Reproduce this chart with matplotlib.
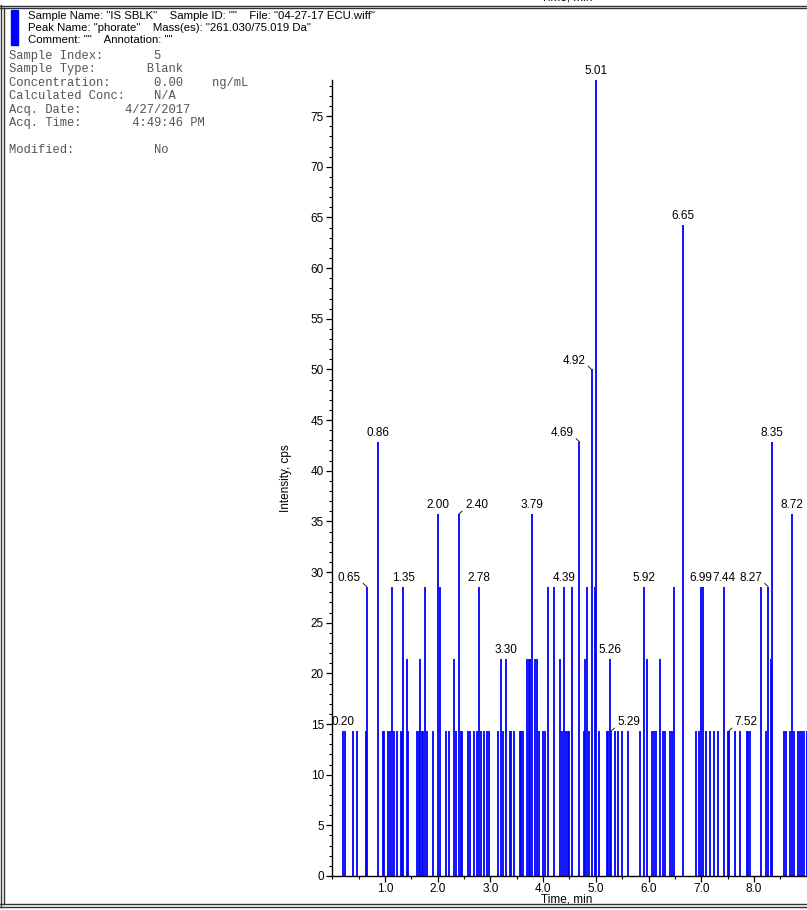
import matplotlib
matplotlib.use("Agg")
import matplotlib.pyplot as plt
from matplotlib.lines import Line2D
from matplotlib.ticker import MultipleLocator, FormatStrFormatter

# ---------------- data ----------------
spike_times = [
    0.21, 0.24, 0.39, 0.46, 0.63, 0.65, 0.86, 0.96, 0.98, 1.06, 1.09, 1.13, 1.17, 1.22,
    1.30, 1.33, 1.35, 1.41, 1.44, 1.61, 1.64, 1.66, 1.70, 1.73, 1.76, 1.80, 1.92, 2.00,
    2.04, 2.16, 2.22, 2.30, 2.35, 2.40, 2.44, 2.47, 2.58, 2.61, 2.69, 2.75, 2.78, 2.82,
    2.88, 2.93, 2.98, 3.15, 3.20, 3.24, 3.30, 3.37, 3.40, 3.45, 3.56, 3.59, 3.62, 3.69,
    3.74, 3.76, 3.79, 3.85, 3.89, 3.93, 4.00, 4.04, 4.09, 4.21, 4.32, 4.35, 4.39, 4.43,
    4.47, 4.50, 4.55, 4.69, 4.77, 4.80, 4.83, 4.87, 4.92, 4.99, 5.01, 5.07, 5.21, 5.24,
    5.26, 5.29, 5.37, 5.43, 5.50, 5.61, 5.84, 5.92, 5.97, 6.07, 6.11, 6.15, 6.21, 6.28,
    6.32, 6.41, 6.45, 6.48, 6.65, 6.91, 6.95, 6.99, 7.03, 7.09, 7.17, 7.24, 7.31, 7.44,
    7.50, 7.53, 7.64, 7.74, 7.86, 7.89, 7.92, 8.13, 8.23, 8.27, 8.33, 8.35, 8.57, 8.60,
    8.68, 8.72, 8.76, 8.84, 8.87, 8.92, 8.96, 9.00,
]
spike_cps = [
    14.29, 14.29, 14.29, 14.29, 14.29, 28.57, 42.86, 14.29, 14.29, 14.29, 14.29, 28.57, 14.29, 14.29,
    14.29, 14.29, 28.57, 21.43, 14.29, 14.29, 14.29, 21.43, 14.29, 14.29, 28.57, 14.29, 14.29, 35.71,
    28.57, 14.29, 14.29, 21.43, 14.29, 35.71, 14.29, 14.29, 14.29, 14.29, 14.29, 14.29, 28.57, 14.29,
    14.29, 14.29, 14.29, 14.29, 21.43, 14.29, 21.43, 14.29, 14.29, 14.29, 14.29, 14.29, 14.29, 21.43,
    21.43, 21.43, 35.71, 21.43, 21.43, 14.29, 14.29, 14.29, 28.57, 28.57, 21.43, 14.29, 28.57, 14.29,
    14.29, 14.29, 28.57, 42.86, 14.29, 21.43, 28.57, 14.29, 50.00, 28.57, 78.57, 14.29, 14.29, 14.29,
    21.43, 14.29, 14.29, 14.29, 14.29, 14.29, 14.29, 28.57, 21.43, 14.29, 14.29, 14.29, 21.43, 14.29,
    14.29, 14.29, 14.29, 28.57, 64.29, 14.29, 14.29, 28.57, 28.57, 14.29, 14.29, 14.29, 14.29, 28.57,
    14.29, 14.29, 14.29, 14.29, 14.29, 14.29, 14.29, 28.57, 14.29, 28.57, 21.43, 42.86, 14.29, 14.29,
    14.29, 35.71, 14.29, 14.29, 14.29, 14.29, 14.29, 14.29,
]

# peak labels: time, height, text, side ('c' centre, 'l' text left with leader, 'r' text right with leader)
label_times = [0.21, 0.65, 0.86, 1.35, 2.00, 2.40, 2.78, 3.30, 3.79, 4.39, 4.69, 4.92, 5.01,
               5.26, 5.29, 5.92, 6.65, 6.99, 7.44, 7.52, 8.27, 8.35, 8.72]
label_cps = [14.29, 28.57, 42.86, 28.57, 35.71, 35.71, 28.57, 21.43, 35.71, 28.57, 42.86, 50.00, 78.57,
             21.43, 14.29, 28.57, 64.29, 28.57, 28.57, 14.29, 28.57, 42.86, 35.71]
label_texts = ["0.20", "0.65", "0.86", "1.35", "2.00", "2.40", "2.78", "3.30", "3.79", "4.39",
               "4.69", "4.92", "5.01", "5.26", "5.29", "5.92", "6.65", "6.99", "7.44", "7.52",
               "8.27", "8.35", "8.72"]
label_sides = ["c", "l", "c", "c", "c", "r", "c", "c", "c", "c",
               "l", "l", "c", "c", "r", "c", "c", "c", "c", "r",
               "l", "c", "c"]

header_lines = [
    'Sample Name: "IS SBLK"    Sample ID: ""    File: "04-27-17 ECU.wiff"',
    'Peak Name: "phorate"    Mass(es): "261.030/75.019 Da"',
    'Comment: ""    Annotation: ""',
]
info_lines = [
    "Sample Index:       5",
    "Sample Type:       Blank",
    "Concentration:      0.00    ng/mL",
    "Calculated Conc:    N/A",
    "Acq. Date:      4/27/2017",
    "Acq. Time:       4:49:46 PM",
    "",
    "Modified:           No",
]

# ---------------- figure ----------------
W, H = 807, 910
fig = plt.figure(figsize=(W / 100, H / 100), dpi=100)
SANS = ["Liberation Sans", "DejaVu Sans"]
MONO = ["Liberation Mono", "DejaVu Sans Mono"]
FS = 8.5


def fx(px):
    return px / W


def fy(py):
    return 1 - py / H


x0, x1, y0, y1 = 332.3, 806.6, 876.0, 80.0
ax = fig.add_axes([fx(x0), fy(y0), fx(x1) - fx(x0), fy(y1) - fy(y0)])
ax.set_xlim(0.0, 9.0)
ax.set_ylim(0.0, 78.57)
ax.patch.set_alpha(0)

ax.vlines(spike_times, 0, spike_cps, colors="#0000ff", linewidth=1.3)

for s in ("top", "right"):
    ax.spines[s].set_visible(False)
for s in ("left", "bottom"):
    ax.spines[s].set_linewidth(1.0)
ax.yaxis.set_major_locator(MultipleLocator(5))
ax.yaxis.set_minor_locator(MultipleLocator(1))
ax.xaxis.set_minor_locator(MultipleLocator(0.5))
ax.set_xticks([1, 2, 3, 4, 5, 6, 7, 8])
ax.xaxis.set_major_formatter(FormatStrFormatter("%.1f"))
ax.tick_params(axis="both", which="major", direction="out", length=4, width=0.9,
               labelsize=FS, pad=2)
ax.tick_params(axis="x", which="major", pad=1.2)
ax.tick_params(axis="both", which="minor", direction="out", length=2.5, width=0.8)
for lab in ax.get_xticklabels() + ax.get_yticklabels():
    lab.set_family(SANS)

# peak labels
for t, v, txt, side in zip(label_times, label_cps, label_texts, label_sides):
    if side == "c":
        ax.annotate(txt, (t, v), xytext=(0, 2.0), textcoords="offset points",
                    ha="center", va="bottom", fontsize=FS, family=SANS)
    elif side == "l":
        ax.annotate(txt, (t, v), xytext=(-4.5, 2.0), textcoords="offset points",
                    ha="right", va="bottom", fontsize=FS, family=SANS,
                    arrowprops=dict(arrowstyle="-", lw=0.6, color="black",
                                    shrinkA=0, shrinkB=0, relpos=(1.0, 0.25)))
    else:
        ax.annotate(txt, (t, v), xytext=(4.5, 2.0), textcoords="offset points",
                    ha="left", va="bottom", fontsize=FS, family=SANS,
                    arrowprops=dict(arrowstyle="-", lw=0.6, color="black",
                                    shrinkA=0, shrinkB=0, relpos=(0.0, 0.25)))

# axis titles
fig.text(fx(567), fy(899.5), "Time, min", ha="center", va="center", fontsize=FS, family=SANS)
fig.text(fx(286), fy(478), "Intensity, cps", ha="center", va="center", rotation=90,
         fontsize=FS, family=SANS)
# cut-off title of the panel above (only its lower edge shows, as in the reference)
fig.text(fx(567), fy(-2), "Time, min", ha="center", va="center", fontsize=FS, family=SANS)

# header
for i, line in enumerate(header_lines):
    fig.text(fx(28), fy(16 + 12 * i), line, ha="left", va="center", fontsize=8.2, family=SANS)
for i, line in enumerate(info_lines):
    fig.text(fx(9), fy(56 + 13.4 * i), line, ha="left", va="center", fontsize=8.7,
             family=MONO, color="#555555")

# blue swatch
fig.add_artist(plt.Rectangle((fx(11), fy(45)), fx(18) - fx(11), fy(10) - fy(45),
                             transform=fig.transFigure, color="#0000ff"))


# frame lines
def hline(py, xa, xb, lw=1.0, color="#333333"):
    fig.add_artist(Line2D([fx(xa), fx(xb)], [fy(py), fy(py)], transform=fig.transFigure,
                          lw=lw, color=color))


def vline(px, ya, yb, lw=1.0, color="#333333"):
    fig.add_artist(Line2D([fx(px), fx(px)], [fy(ya), fy(yb)], transform=fig.transFigure,
                          lw=lw, color=color))


hline(5.5, 0, W)
hline(8.0, 0, W)
hline(903.5, 0, W)
hline(906.5, 0, W)
vline(0.8, 5, 907)
vline(3.5, 8, 904)

fig.savefig("out.png", dpi=100)
